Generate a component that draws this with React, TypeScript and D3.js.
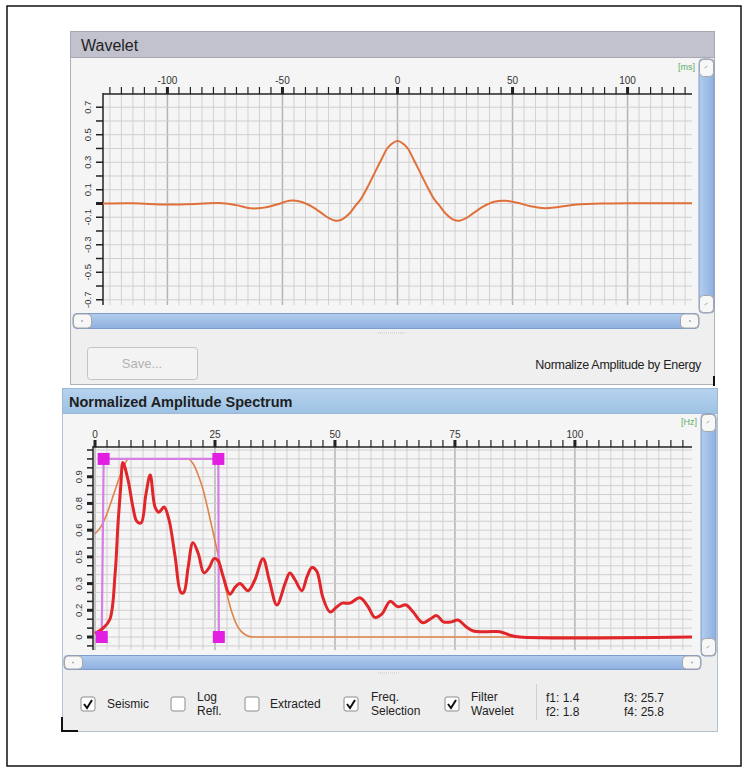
import * as d3 from 'd3'

const FONT = '"Liberation Sans", Arial, sans-serif'

// wavelet (time in ms, normalized amplitude)
const WAVE_MS = [-128, -115, -100, -88, -76, -70, -64, -58, -52, -47, -42, -37, -33, -30, -27, -24, -21, -18, -16, -13, -10, -7, -4, 0, 4, 7, 10, 13, 16, 18, 21, 24, 27, 30, 33, 37, 42, 47, 52, 58, 64, 70, 78, 90, 105, 128]
const WAVE_AMP = [0, 0.002, -0.008, -0.003, 0.002, -0.012, -0.035, -0.03, -0.005, 0.02, 0.012, -0.025, -0.07, -0.105, -0.125, -0.115, -0.075, -0.01, 0.03, 0.12, 0.22, 0.32, 0.41, 0.455, 0.41, 0.32, 0.22, 0.12, 0.03, -0.01, -0.075, -0.115, -0.125, -0.105, -0.07, -0.025, 0.012, 0.02, 0.005, -0.02, -0.035, -0.025, -0.008, 0, 0.002, 0.002]
const WAVE_X_LABELS = [-100, -50, 0, 50, 100]
const WAVE_Y_LABELS = [-0.7, -0.5, -0.3, -0.1, 0.1, 0.3, 0.5, 0.7]

// amplitude spectrum (Hz)
const SPEC_HZ = [0, 1.7, 3.1, 4.2, 4.8, 5.4, 5.8, 6.9, 7.9, 8.7, 9.6, 10.6, 11.5, 12.5, 13.3, 14.4, 15.4, 16.7, 17.9, 18.5, 19.4, 20.4, 21.5, 22.7, 23.8, 24.8, 25.6, 26.7, 28.1, 29.2, 30.2, 31.9, 33.3, 35, 36.3, 37.9, 39.6, 40.6, 41.7, 43.1, 44.2, 45.2, 46.2, 47.5, 49, 50.4, 51.5, 53.1, 55.2, 56.9, 58.3, 59.8, 61.5, 63.1, 64.8, 66.3, 68.3, 69.8, 71.2, 72.6, 74.3, 75.6, 77.4, 78.8, 81.6, 84.4, 86.5, 88.5, 124.4]
const SPEC_AMP = [0.02, 0.05, 0.1, 0.36, 0.64, 0.86, 0.98, 0.88, 0.73, 0.65, 0.64, 0.8, 0.91, 0.73, 0.7, 0.73, 0.66, 0.45, 0.25, 0.25, 0.39, 0.53, 0.47, 0.36, 0.39, 0.44, 0.43, 0.34, 0.24, 0.28, 0.3, 0.26, 0.32, 0.44, 0.32, 0.18, 0.3, 0.36, 0.32, 0.26, 0.34, 0.39, 0.37, 0.22, 0.14, 0.17, 0.19, 0.19, 0.22, 0.17, 0.11, 0.13, 0.2, 0.17, 0.18, 0.14, 0.08, 0.1, 0.12, 0.085, 0.085, 0.095, 0.056, 0.034, 0.03, 0.03, 0.01, 0, 0]
// filter wavelet spectrum
const FILT_HZ = [0, 1, 2, 3, 4, 5, 6, 7, 19.4, 20.5, 21.5, 22.5, 23.5, 24.5, 25.5, 26.5, 27.5, 28.5, 29.5, 30.5, 31.5, 33, 124.4]
const FILT_AMP = [0.58, 0.61, 0.66, 0.73, 0.81, 0.89, 0.96, 1, 1, 0.97, 0.91, 0.83, 0.72, 0.6, 0.48, 0.36, 0.24, 0.14, 0.07, 0.03, 0.01, 0, 0]
// frequency selection f1..f4
const SEL_HZ = [1.4, 1.8, 25.7, 25.8]
const SEL_AMP = [0, 1, 1, 0]
const SPEC_X_LABELS = [0, 25, 50, 75, 100]
const SPEC_Y_TICKS = [0, 0.15, 0.3, 0.45, 0.6, 0.75, 0.9]
const SPEC_Y_LABELS = ['0', '0.2', '0.3', '0.5', '0.6', '0.8', '0.9']

const wx = d3.scaleLinear().domain([-128, 128]).range([103, 692])
const wy = d3.scaleLinear().domain([-0.738, 0.796]).range([305, 94])
const sx = d3.scaleLinear().domain([-0.42, 124.4]).range([93, 692])
const sy = d3.scaleLinear().domain([-0.073, 1.067]).range([650, 447])

const near = (a: number, b: number) => Math.abs(a - b) < 1e-6

function VScroll({ x, y, w, h }: any) {
	return (
		<g>
			<rect x={x} y={y} width={w} height={h} rx={4} fill="url(#vgrad)" stroke="#7f9ccb" />
			<rect x={x + 0.5} y={y + 0.5} width={w - 1} height={17} rx={4} fill="#f7f7f7" stroke="#a5a5a5" />
			<rect x={x + 0.5} y={y + h - 17.5} width={w - 1} height={17} rx={4} fill="#f7f7f7" stroke="#a5a5a5" />
			<path d={`M${x + w / 2 - 2},${y + 9} l3,-2`} stroke="#aaa" />
			<path d={`M${x + w / 2 - 2},${y + h - 8} l3,-2`} stroke="#aaa" />
		</g>
	)
}

function HScroll({ x, y, w, h }: any) {
	return (
		<g>
			<rect x={x} y={y} width={w} height={h} rx={4} fill="url(#hgrad)" stroke="#7f9ccb" />
			<rect x={x + 0.5} y={y + 0.5} width={18} height={h - 1} rx={4} fill="#f7f7f7" stroke="#a5a5a5" />
			<rect x={x + w - 18.5} y={y + 0.5} width={18} height={h - 1} rx={4} fill="#f7f7f7" stroke="#a5a5a5" />
			<circle cx={x + 9} cy={y + h / 2} r={1} fill="#aaa" />
			<circle cx={x + w - 9} cy={y + h / 2} r={1} fill="#aaa" />
		</g>
	)
}

function Checkbox({ x, y, checked }: any) {
	return (
		<g>
			<rect x={x} y={y} width={14} height={14} rx={2} fill="#fff" stroke="#8c8c8c" />
			{checked && <path d={`M${x + 3},${y + 7} L${x + 6},${y + 11} L${x + 11},${y + 3}`} fill="none" stroke="#111" strokeWidth={2} />}
		</g>
	)
}

export default function App() {
	const wave = d3.line<number>().x((d, i) => wx(WAVE_MS[i])).y((d) => wy(d)).curve(d3.curveCatmullRom.alpha(0.5))
	const spec = d3.line<number>().x((d, i) => sx(SPEC_HZ[i])).y((d) => sy(d)).curve(d3.curveCatmullRom.alpha(0.5))
	const filt = d3.line<number>().x((d, i) => sx(FILT_HZ[i])).y((d) => sy(d)).curve(d3.curveMonotoneX)
	const sel = d3.line<number>().x((d, i) => sx(SEL_HZ[i])).y((d) => sy(d))

	const wMinorX = d3.range(-125, 126, 5)
	const wTicksY = d3.range(-7, 8).map((d) => d / 10)
	const sMinorX = d3.range(0, 124, 2.5)
	const sTicksY = d3.range(-1, 22).map((d) => d / 20)

	return (
		<svg width={748} height={773} style={{ position: 'absolute', left: 0, top: 0 }} fontFamily={FONT}>
			<defs>
				<linearGradient id="vgrad" x1="0" x2="1" y1="0" y2="0">
					<stop offset="0" stopColor="#b3cdee" />
					<stop offset="1" stopColor="#8eb0df" />
				</linearGradient>
				<linearGradient id="hgrad" x1="0" x2="0" y1="0" y2="1">
					<stop offset="0" stopColor="#b3cdee" />
					<stop offset="1" stopColor="#8eb0df" />
				</linearGradient>
				<linearGradient id="bluehead" x1="0" x2="0" y1="0" y2="1">
					<stop offset="0" stopColor="#b6d3ee" />
					<stop offset="1" stopColor="#9ec2e4" />
				</linearGradient>
			</defs>
			<rect x={0} y={0} width={748} height={773} fill="#fff" />
			<rect x={7} y={6} width={734} height={760} fill="none" stroke="#111" strokeWidth={1.5} />

			{/* ---------- Wavelet panel ---------- */}
			<rect x={70.5} y={31.5} width={644} height={353} fill="#efefef" stroke="#b0b0b8" />
			<rect x={70.5} y={31.5} width={644} height={26} fill="#c2c2cf" stroke="#a8a8b2" />
			<text x={81} y={51} fontSize={16} fill="#222">Wavelet</text>
			<rect x={71} y={58} width={628} height={255} fill="#f5f5f5" />
			{/* grid */}
			{wMinorX.map((t) => (
				<line key={'wg' + t} x1={wx(t)} x2={wx(t)} y1={94} y2={305} stroke={t % 50 === 0 ? '#b4b4b4' : '#d2d2d2'} strokeWidth={t % 50 === 0 ? 1.5 : 1} />
			))}
			{wTicksY.map((t) => (
				<line key={'wh' + t} x1={103} x2={692} y1={wy(t)} y2={wy(t)} stroke="#cfcfcf" />
			))}
			{/* axes */}
			<line x1={103} x2={692} y1={94} y2={94} stroke="#222" strokeWidth={1.5} />
			{wMinorX.map((t) => (
				<line key={'wt' + t} x1={wx(t)} x2={wx(t)} y1={94} y2={87} stroke="#222" strokeWidth={t % 50 === 0 ? 3 : 1.2} />
			))}
			{WAVE_X_LABELS.map((t) => (
				<text key={'wl' + t} x={wx(t)} y={84} fontSize={10} textAnchor="middle" fill="#333">{t}</text>
			))}
			<line x1={103} x2={103} y1={93} y2={305} stroke="#222" strokeWidth={1.5} />
			{wTicksY.map((t) => (
				<line key={'wyt' + t} x1={96} x2={103} y1={wy(t)} y2={wy(t)} stroke="#222" strokeWidth={near(t, 0) ? 3 : 1.5} />
			))}
			{WAVE_Y_LABELS.map((t) => (
				<text key={'wyl' + t} transform={`translate(${91},${wy(t)}) rotate(-90)`} fontSize={9.5} textAnchor="middle" fill="#333">{t.toFixed(1)}</text>
			))}
			<text x={695} y={70} fontSize={9} textAnchor="end" fill="#5aae6e">[ms]</text>
			<path d={wave(WAVE_AMP) || ''} fill="none" stroke="#e0703a" strokeWidth={2} />
			<VScroll x={699} y={59} w={15} h={254} />
			<HScroll x={73} y={313.5} w={626} h={15} />
			<line x1={378} x2={406} y1={333} y2={333} stroke="#c8c8c8" strokeDasharray="1 1" />
			<rect x={87.5} y={347.5} width={110} height={32} rx={3} fill="#f3f3f3" stroke="#c4c4c4" />
			<text x={142} y={368} fontSize={13} textAnchor="middle" fill="#b2b2b2">Save...</text>
			<text x={701} y={369} fontSize={12.5} textAnchor="end" fill="#222" letterSpacing={-0.3}>Normalize Amplitude by Energy</text>
			<line x1={714} x2={714} y1={376} y2={386} stroke="#111" strokeWidth={2} />

			{/* ---------- Spectrum panel ---------- */}
			<rect x={62.5} y={388.5} width={655} height={343} fill="#eeeeee" stroke="#b3c3d3" />
			<rect x={62.5} y={388.5} width={655} height={25} fill="url(#bluehead)" stroke="#9cb8d4" />
			<text x={69} y={407} fontSize={14.5} fontWeight="bold" fill="#1e1e1e">Normalized Amplitude Spectrum</text>
			<rect x={63} y={414} width={638} height={241} fill="#f5f5f5" />
			{sMinorX.map((t) => (
				<line key={'sg' + t} x1={sx(t)} x2={sx(t)} y1={447} y2={650} stroke={t % 25 === 0 ? '#b4b4b4' : '#d2d2d2'} strokeWidth={t % 25 === 0 ? 1.5 : 1} />
			))}
			{sTicksY.map((t) => (
				<line key={'sh' + t} x1={93} x2={692} y1={sy(t)} y2={sy(t)} stroke="#cfcfcf" />
			))}
			<line x1={93} x2={692} y1={447} y2={447} stroke="#222" strokeWidth={1.5} />
			{sMinorX.map((t) => (
				<line key={'st' + t} x1={sx(t)} x2={sx(t)} y1={447} y2={440} stroke="#222" strokeWidth={t % 25 === 0 ? 3 : 1.2} />
			))}
			{SPEC_X_LABELS.map((t) => (
				<text key={'sl' + t} x={sx(t)} y={438} fontSize={10} textAnchor="middle" fill="#333">{t}</text>
			))}
			<line x1={93} x2={93} y1={446} y2={650} stroke="#222" strokeWidth={1.5} />
			{sTicksY.map((t) => (
				<line key={'syt' + t} x1={87} x2={93} y1={sy(t)} y2={sy(t)} stroke="#222" strokeWidth={SPEC_Y_TICKS.some((v) => near(v, t)) ? 3 : 1.5} />
			))}
			{SPEC_Y_TICKS.map((t, i) => (
				<text key={'syl' + t} transform={`translate(${82},${sy(t)}) rotate(-90)`} fontSize={9.5} textAnchor="middle" fill="#333">{SPEC_Y_LABELS[i]}</text>
			))}
			<text x={697} y={425} fontSize={9} textAnchor="end" fill="#5aae6e">[Hz]</text>
			<path d={filt(FILT_AMP) || ''} fill="none" stroke="#e0824a" strokeWidth={1.6} />
			<path d={sel(SEL_AMP) || ''} fill="none" stroke="#d67ee6" strokeWidth={2.2} />
			<path d={spec(SPEC_AMP) || ''} fill="none" stroke="#e0262a" strokeWidth={3} />
			{SEL_AMP.map((a, i) => (
				<rect key={'sq' + i} x={sx(SEL_HZ[i]) - 6} y={sy(a) - 6} width={12} height={12} fill="#e21fe0" />
			))}
			<VScroll x={701} y={414} w={15} h={242} />
			<HScroll x={64} y={655.5} w={637} h={14} />
			<line x1={378} x2={400} y1={673} y2={673} stroke="#c8c8c8" strokeDasharray="1 1" />

			{/* controls */}
			<Checkbox x={81} y={697} checked />
			<text x={107} y={708} fontSize={12} fill="#222">Seismic</text>
			<Checkbox x={171} y={697} checked={false} />
			<text x={197} y={701} fontSize={12} fill="#222">Log</text>
			<text x={197} y={715} fontSize={12} fill="#222">Refl.</text>
			<Checkbox x={245} y={697} checked={false} />
			<text x={270} y={708} fontSize={12} fill="#222">Extracted</text>
			<Checkbox x={344} y={697} checked />
			<text x={371} y={701} fontSize={12} fill="#222">Freq.</text>
			<text x={371} y={715} fontSize={12} fill="#222">Selection</text>
			<Checkbox x={445} y={697} checked />
			<text x={471} y={701} fontSize={12} fill="#222">Filter</text>
			<text x={471} y={715} fontSize={12} fill="#222">Wavelet</text>
			<line x1={536.5} x2={536.5} y1={684} y2={720} stroke="#d0d0d0" />
			<text x={546} y={702} fontSize={12} fill="#222">f1: {SEL_HZ[0]}</text>
			<text x={546} y={716} fontSize={12} fill="#222">f2: {SEL_HZ[1]}</text>
			<text x={624} y={702} fontSize={12} fill="#222">f3: {SEL_HZ[2]}</text>
			<text x={624} y={716} fontSize={12} fill="#222">f4: {SEL_HZ[3]}</text>
			<path d="M62,717 V731 H78" fill="none" stroke="#111" strokeWidth={2} />
		</svg>
	)
}
